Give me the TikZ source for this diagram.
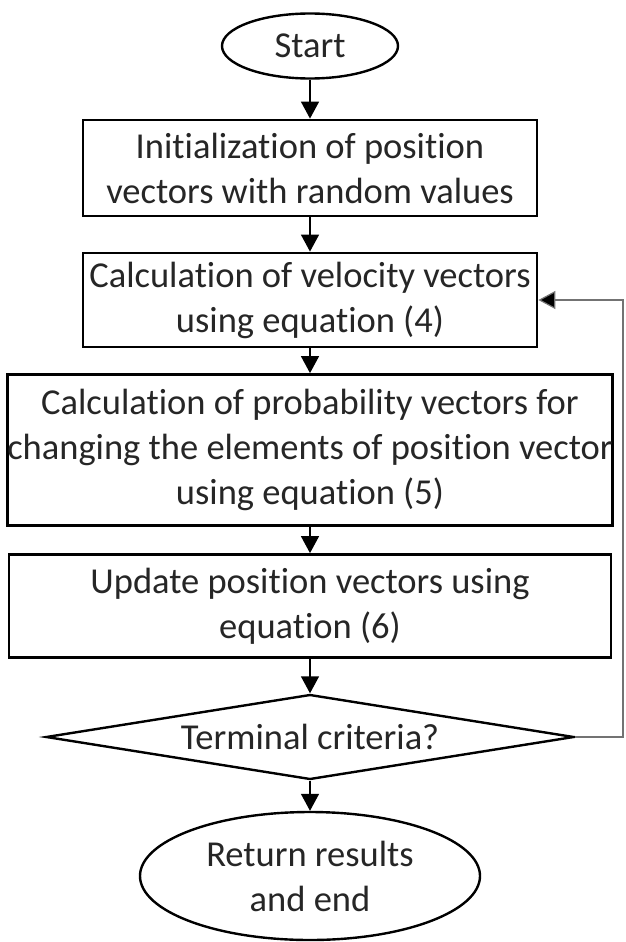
\documentclass[tikz,border=0pt]{standalone}
\usepackage{fontspec}
\setmainfont{Carlito}[RawFeature={-liga;-dlig;-clig}]
\usetikzlibrary{shapes.geometric,arrows.meta}
\begin{document}
\begin{tikzpicture}[x=1pt,y=-1pt,
  every node/.style={font=\fontsize{36.5}{45}\selectfont, text=black!85, align=center, inner sep=0pt},
  box/.style={draw=black, line width=2.8pt, rectangle},
  term/.style={draw=black, line width=2.4pt, ellipse},
  decide/.style={draw=black, line width=2.4pt, diamond},
  arr/.style={line width=1.4pt, -{Triangle[length=17pt,width=18pt]}},
  fbline/.style={line width=1.2pt, draw=black!55, -{Triangle[length=17pt,width=18pt,fill=black]}}
]
\useasboundingbox (0,0) rectangle (625,942);
\fill[white] (0,0) rectangle (625,942);

\node[term, minimum width=176pt, minimum height=65pt] (start) at (310,46) {Start};
\node[box, minimum width=454pt, minimum height=96pt] (init) at (310,168)
  {Initialization of position\\vectors with random values};
\node[box, minimum width=454pt, minimum height=94pt] (vel) at (310,300)
  {Calculation of velocity vectors\\using equation (4)};
\node[box, minimum width=602pt, minimum height=151pt] (prob) at (310,450)
  {Calculation of probability vectors for\\changing the elements of position vector\\using equation (5)};
\node[box, minimum width=602pt, minimum height=103pt] (upd) at (310,606)
  {Update position vectors using\\equation (6)};
\node[decide, aspect=6.2, minimum width=528pt, minimum height=85pt] (dec) at (310,737)
  {Terminal criteria?};
\node[term, minimum width=340pt, minimum height=128pt] (end) at (310,876)
  {Return results\\and end};

\draw[arr] (start) -- (init);
\draw[arr] (init) -- (vel);
\draw[arr] (vel) -- (prob);
\draw[arr] (prob) -- (upd);
\draw[arr] (upd) -- (dec);
\draw[arr] (dec) -- (end);
\coordinate (fb) at (623,737);
\draw[fbline] (dec.east) -- (fb) |- (vel.east);
\end{tikzpicture}
\end{document}
